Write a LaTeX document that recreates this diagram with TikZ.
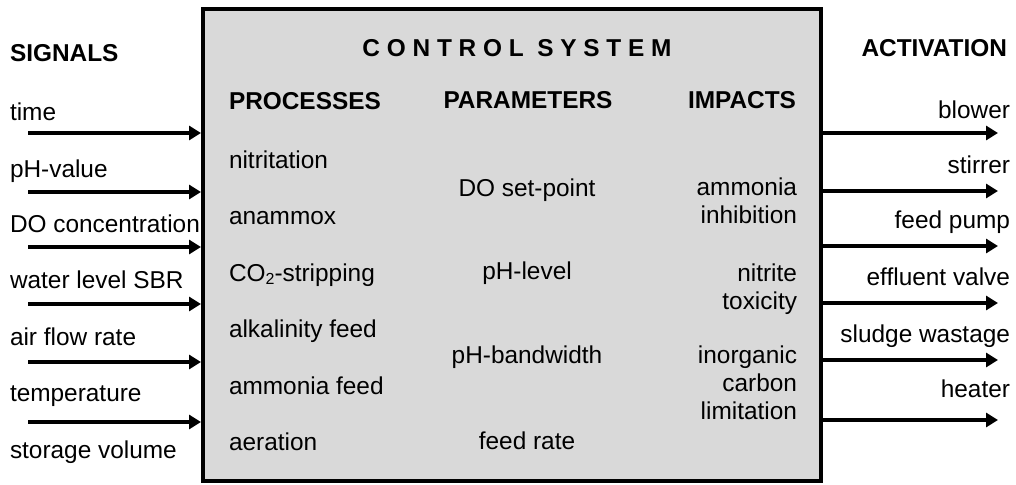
\documentclass[tikz,border=0pt]{standalone}
\usepackage{fontspec}
\setmainfont{Liberation Sans}
\usetikzlibrary{arrows.meta}
\definecolor{boxgray}{RGB}{217,217,217}
\begin{document}
\begin{tikzpicture}[x=1pt,y=-1pt,
  txt/.style={font=\fontsize{24.4}{28}\selectfont, inner sep=0pt, outer sep=0pt},
  lbl/.style={txt, anchor=base west},
  rlbl/.style={txt, anchor=base east},
  clbl/.style={txt, anchor=base},
  hdr/.style={font=\fontsize{24.4}{28}\selectfont\bfseries, inner sep=0pt, outer sep=0pt},
  imp/.style={txt, anchor=base east, align=right},
  sig/.style={line width=4pt, -{Triangle[length=12pt,width=14pt]}}]
\useasboundingbox (0,0) rectangle (1016,484);

% control system box
\node[draw, line width=4pt, fill=boxgray, minimum width=618pt, minimum height=472pt,
      inner sep=0pt] (cs) at (512,245) {};

% headers
\node[hdr, anchor=base west] (hsig) at (10,62) {SIGNALS};
\node[hdr, anchor=base east] (hact) at (1007,57) {ACTIVATION};
\node[hdr, anchor=base] (hcs) at (517,57) {C O N T R O L\ \ S Y S T E M};
\node[hdr, anchor=base west] (hproc) at (229,110) {PROCESSES};
\node[hdr, anchor=base] (hpar) at (528,109) {PARAMETERS};
\node[hdr, anchor=base east] (himp) at (796,109) {IMPACTS};

% signals (inputs)
\node[lbl] (l1) at (10,121) {time};
\node[lbl] (l2) at (10,177) {pH-value};
\node[lbl] (l3) at (10,232) {DO concentration};
\node[lbl] (l4) at (10,288) {water level SBR};
\node[lbl] (l5) at (10,345) {air flow rate};
\node[lbl] (l6) at (10,401) {temperature};
\node[lbl] (l7) at (10,458) {storage volume};

\coordinate (i1) at (28,133);
\coordinate (i2) at (28,192);
\coordinate (i3) at (28,247);
\coordinate (i4) at (28,304);
\coordinate (i5) at (28,362);
\coordinate (i6) at (28,422);
\foreach \k in {1,...,6}{\draw[sig] (i\k) -- (i\k -| cs.west);}

% activation (outputs)
\node[rlbl] (r1) at (1010,118) {blower};
\node[rlbl] (r2) at (1010,173) {stirrer};
\node[rlbl] (r3) at (1010,228) {feed pump};
\node[rlbl] (r4) at (1010,285) {effluent valve};
\node[rlbl] (r5) at (1010,342) {sludge wastage};
\node[rlbl] (r6) at (1010,397) {heater};

\coordinate (o1) at (998,133);
\coordinate (o2) at (998,191);
\coordinate (o3) at (998,246);
\coordinate (o4) at (998,303);
\coordinate (o5) at (998,360);
\coordinate (o6) at (998,420);
\foreach \k in {1,...,6}{\draw[sig] (o\k -| cs.east) -- (o\k);}

% processes
\node[lbl] (p1) at (229,168) {nitritation};
\node[lbl] (p2) at (229,224) {anammox};
\node[lbl] (p3) at (229,281) {CO\raisebox{-0.28ex}{\fontsize{16}{16}\selectfont 2}-stripping};
\node[lbl] (p4) at (229,337) {alkalinity feed};
\node[lbl] (p5) at (229,394) {ammonia feed};
\node[lbl] (p6) at (229,450) {aeration};

% parameters
\node[clbl] (q1) at (527,196) {DO set-point};
\node[clbl] (q2) at (527,279) {pH-level};
\node[clbl] (q3) at (527,363) {pH-bandwidth};
\node[clbl] (q4) at (527,449) {feed rate};

% impacts (anchor base = baseline of the last line)
\node[imp] (m1) at (797,223) {ammonia\\inhibition};
\node[imp] (m2) at (797,309) {nitrite\\toxicity};
\node[imp] (m3) at (797,419) {inorganic\\carbon\\limitation};
\end{tikzpicture}
\end{document}
